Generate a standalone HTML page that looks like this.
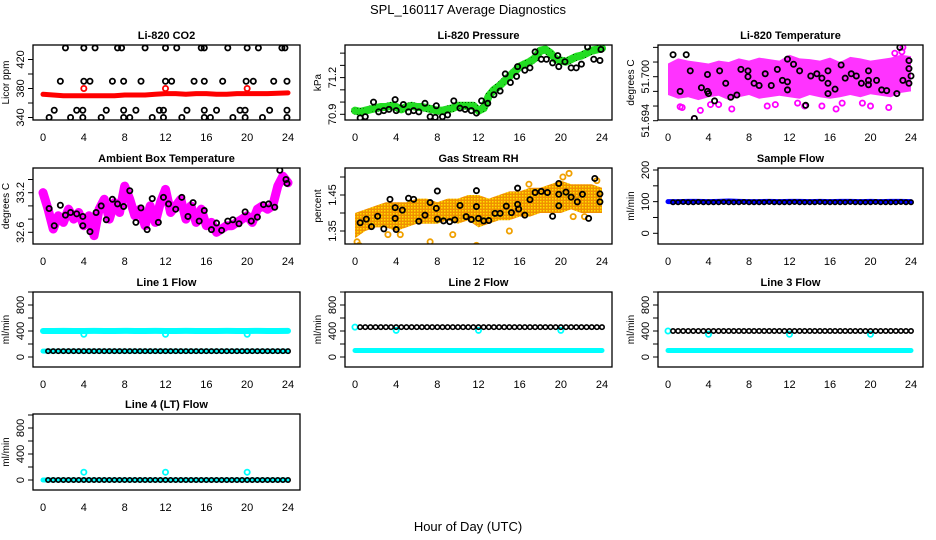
<!DOCTYPE html>
<html><head><meta charset="utf-8"><style>
html,body{margin:0;padding:0;background:#fff}
svg{display:block;font-family:"Liberation Sans",Arial,sans-serif}
</style></head><body>
<svg id="chart" width="936" height="540" viewBox="0 0 936 540">
<defs>
<pattern id="rhpat" width="3" height="3" patternUnits="userSpaceOnUse"><rect width="3" height="3" fill="#f09000"/><rect x="0" y="0" width="1.5" height="1.5" fill="#ffe000"/></pattern>
<pattern id="grpat" width="3" height="3" patternUnits="userSpaceOnUse"><rect width="3" height="3" fill="#22dd22"/><rect width="1" height="1" fill="#005500"/></pattern>
</defs>
<text x="468" y="14" font-size="13" text-anchor="middle">SPL_160117  Average Diagnostics</text>
<text x="468" y="531" font-size="13" text-anchor="middle">Hour of Day (UTC)</text>
</svg>
<script>
const xTicks=[0,4,8,12,16,20,24];
const halfHours=[0,0.5,1,1.5,2,2.5,3,3.5,4,4.5,5,5.5,6,6.5,7,7.5,8,8.5,9,9.5,10,10.5,11,11.5,12,12.5,13,13.5,14,14.5,15,15.5,16,16.5,17,17.5,18,18.5,19,19.5,20,20.5,21,21.5,22,22.5,23,23.5,24];
const hours=[0,1,2,3,4,5,6,7,8,9,10,11,12,13,14,15,16,17,18,19,20,21,22,23,24];
const blackHours=[0.5,1,1.5,2,2.5,3,3.5,4,4.5,5,5.5,6,6.5,7,7.5,8,8.5,9,9.5,10,10.5,11,11.5,12,12.5,13,13.5,14,14.5,15,15.5,16,16.5,17,17.5,18,18.5,19,19.5,20,20.5,21,21.5,22,22.5,23,23.5,24];
// CO2
const co2Hours=[2.2,4,5.1,7.3,7.7,10,12,13.1,15.5,15.8,18.1,20,21.1,23.4,23.7,1.7,4,4.6,6.8,7.9,9.6,12,12.6,14.8,15.8,17.6,19.9,20.6,22.6,23.9,1.1,3.3,3.9,6.2,7.9,9.1,11.4,11.8,14.1,15.8,17,19.3,19.8,22.2,23.9,0.6,2.7,3.9,5.7,7.9,8.5,10.7,11.8,13.6,15.8,16.4,18.6,19.8,21.5,23.9];
const co2Values=[436,436,436,436,436,436,436,436,436,436,436,436,436,436,436,390,390,390,390,390,390,390,390,390,390,390,390,390,390,390,350,350,350,350,350,350,350,350,350,350,350,350,350,350,350,340,340,340,340,340,340,340,340,340,340,340,340,340,340,340];
const co2Red=[372,371,370,370,370,370,370,370,371,371,371,372,373,373,372,373,373,372,372,373,373,373,373,374];
const co2RedHours=[0,1,2,3,4,5,6,7,8,9,10,11,12,13,14,15,16,17,18,19,20,21,22,24];
const co2RedOutHours=[4,12,20];
const co2RedOut=[380,380,380];
// Pressure
const presGreen=[70.93,70.92,70.93,70.94,70.95,70.96,70.96,70.97,70.96,70.94,70.96,70.97,70.96,70.96,70.95,70.94,70.93,70.93,70.94,70.95,70.97,70.97,70.97,70.97,70.93,70.95,71.05,71.10,71.13,71.17,71.21,71.25,71.29,71.31,71.33,71.36,71.42,71.43,71.40,71.35,71.34,71.33,71.35,71.37,71.38,71.40,71.42,71.43,71.44];
const presBlackHours=[0.5,1,1.8,2.3,2.8,3.3,3.9,4,4.7,5.2,5.7,6.2,6.8,7.3,7.8,7.9,8.5,9,9.6,10.2,10.7,11.3,11.8,12.3,12.9,13.5,14.1,14.6,15.1,15.7,15.8,16.5,17,17.5,18.1,18.6,19.2,19.7,19.8,20.4,21,21.5,22,22.6,23.2,23.8,23.9];
const presBlack=[70.87,70.88,71.0,70.92,70.93,70.94,71.02,70.93,70.98,70.92,70.93,70.92,70.99,70.88,70.875,70.97,70.88,70.895,71.01,70.95,70.94,70.93,70.91,71.01,70.99,71.06,71.09,71.23,71.16,71.21,71.29,71.26,71.28,71.41,71.35,71.35,71.32,71.38,71.29,71.33,71.28,71.28,71.31,71.45,71.35,71.34,71.43];
// Li-820 temperature
const tempUpper=[51.7018,51.7025,51.7022,51.7020,51.7018,51.7022,51.7020,51.7025,51.7022,51.7026,51.7024,51.7022,51.7030,51.7025,51.7024,51.7022,51.7026,51.7020,51.7027,51.7025,51.7022,51.7024,51.7026,51.7030,51.7028];
const tempLower=[51.6975,51.6970,51.6972,51.6968,51.6972,51.6974,51.6968,51.6972,51.6975,51.6970,51.6972,51.6974,51.6972,51.6970,51.6975,51.6972,51.6970,51.6972,51.6975,51.6972,51.6976,51.6974,51.6972,51.6978,51.6980];
const tempOutHours=[1.2,1.4,2.6,3.2,4.2,5,6.3,9.8,10.6,12.8,13.5,15.2,16.6,17.2,19.2,20,21.8,22.4,23.2,23.1];
const tempOut=[51.6959,51.6958,51.6943,51.6954,51.6962,51.6962,51.6956,51.6960,51.6962,51.6964,51.6960,51.6960,51.6956,51.6964,51.6964,51.6960,51.6958,51.7032,51.7040,51.7034];
const tempBlackHours=[0.5,1.2,1.8,2.2,2.6,3.3,3.9,3.9,4,4.6,5.1,5.7,6.2,6.8,7.2,7.9,7.9,8.5,9,9.6,10.2,10.8,11.3,11.8,11.8,11.8,12.4,13,13.6,14.1,14.7,15.2,15.8,15.8,15.8,16.5,17.1,17.5,18.1,18.6,19.1,19.8,19.8,19.8,20.6,21.1,21.6,22.6,22.9,23.2,23.8,23.8,23.8,24];
const tempBlack=[51.7030,51.6980,51.7030,51.7008,51.6943,51.6985,51.7003,51.6980,51.6977,51.6967,51.7008,51.6991,51.6972,51.6975,51.7010,51.7000,51.7008,51.6991,51.6988,51.7004,51.6988,51.7010,51.6995,51.7024,51.6993,51.6982,51.7017,51.7008,51.6961,51.7001,51.7004,51.6998,51.7008,51.6991,51.6977,51.6983,51.7016,51.6998,51.7004,51.7001,51.6991,51.7008,51.6995,51.6989,51.6995,51.6982,51.6981,51.6977,51.7040,51.6995,51.7022,51.7011,51.6991,51.7001];
// Ambient box temperature
const ambMagenta=[33.2,32.95,32.65,32.85,32.75,32.95,32.8,32.9,32.7,32.85,32.55,32.95,33.1,32.8,33.05,32.9,33.3,33.1,32.85,32.95,32.7,33.0,32.75,33.05,33.25,32.9,33.0,33.1,32.8,33.0,32.75,32.95,32.7,32.75,32.6,32.65,32.7,32.7,32.75,32.8,32.85,32.75,32.95,33.0,32.95,33.0,33.3,33.45,33.35];
const ambBlackHours=[0.6,1.1,1.7,2.2,2.7,3.3,3.9,3.9,4.6,5.2,5.7,6.2,6.8,7.3,7.9,8.5,9.1,9.6,10.2,10.7,11.3,11.8,12.3,13,13.6,14.2,14.7,15.3,15.8,16.5,17,17.5,18.1,18.6,19.2,19.8,20.4,21,21.6,22.1,22.7,23.2,23.8,23.9];
const ambBlack=[32.96,32.70,33.01,32.86,32.90,32.88,32.84,32.70,32.61,32.90,33.0,32.79,33.10,33.03,32.99,33.23,32.75,32.97,32.64,33.11,32.75,33.13,33.03,32.95,33.13,32.84,33.05,32.77,32.93,32.64,32.74,32.63,32.77,32.79,32.73,32.91,32.77,32.83,33.02,33.03,32.98,33.54,33.40,33.34];
// Gas stream RH
const rhUpper=[1.40,1.41,1.42,1.43,1.43,1.43,1.44,1.44,1.43,1.44,1.44,1.45,1.45,1.44,1.45,1.46,1.46,1.47,1.47,1.48,1.49,1.48,1.48,1.48,1.47];
const rhLower=[1.33,1.35,1.36,1.36,1.35,1.36,1.37,1.37,1.37,1.38,1.37,1.38,1.36,1.37,1.38,1.38,1.39,1.39,1.40,1.40,1.40,1.41,1.40,1.40,1.40];
const rhOutHours=[0.2,0.4,3.2,4.4,7.3,9.5,11.8,15,16.9,20.2,20.8,21.2,23.5,22.3];
const rhOut=[1.32,1.31,1.34,1.34,1.32,1.34,1.31,1.35,1.48,1.50,1.51,1.39,1.49,1.39];
const rhBlackHours=[0.5,1.1,1.6,2.2,2.8,3.4,3.9,3.9,4,4.6,5.2,5.7,6.2,6.8,7.3,7.9,8,8,8.6,9.2,9.7,10.2,10.8,11.3,11.8,11.8,12,12.5,13,13.6,14.1,14.7,15.2,15.8,15.8,15.9,16.5,17,17.5,18.1,18.7,19.2,19.8,19.8,19.8,20.5,21,21.6,22.1,22.7,23.3,23.8,23.8];
const rhBlack=[1.373,1.383,1.362,1.391,1.356,1.438,1.415,1.385,1.354,1.408,1.441,1.438,1.377,1.394,1.429,1.413,1.461,1.383,1.378,1.376,1.381,1.421,1.390,1.382,1.462,1.418,1.385,1.378,1.379,1.399,1.399,1.419,1.401,1.469,1.424,1.411,1.394,1.437,1.457,1.460,1.457,1.391,1.482,1.452,1.420,1.458,1.444,1.431,1.452,1.385,1.496,1.453,1.431];
// Flows
const sampleBlue=[100,100,101,101,100,101,102,101,100,100,101,100,101,101,100,101,100,101,101,100,101,100,101,101,100];
const sampleBlack=[98,98,99,98,98,99,98,98,98,98,99,98,98,98,99,98,98,98,98,99,98,98,98,98,99,98,98,98,98,99,98,98,98,98,98,99,98,98,98,98,99,98,98,98,98,99,98,98];
const line1Cyan=[400,400,402,400,400,401,400,400,402,400,400,401,400,400,401,400,400,400,401,400,400,402,400,400,401];
const line1Low=[90,90,90,90,90,90,90,90,90,90,90,90,90,90,90,90,90,90,90,90,90,90,90,90,90];
const line1Black=[90,90,90,90,90,90,90,90,90,90,90,90,90,90,90,90,90,90,90,90,90,90,90,90,90,90,90,90,90,90,90,90,90,90,90,90,90,90,90,90,90,90,90,90,90,90,90,90];
const line1OutHours=[4,12,20];
const line1Out=[350,350,350];
const line2Cyan=[100,100,100,100,100,100,100,100,100,100,100,100,100,100,100,100,100,100,100,100,100,100,100,100,100];
const line2Black=[460,460,460,460,460,460,460,460,460,460,460,460,460,460,460,460,460,460,460,460,460,460,460,460,460,460,460,460,460,460,460,460,460,460,460,460,460,460,460,460,460,460,460,460,460,460,460,460];
const line2OutHours=[0,4,12,20];
const line2Out=[460,410,410,410];
const line3Cyan=[100,100,100,100,100,100,100,100,100,100,100,100,100,100,100,100,100,100,100,100,100,100,100,100,100];
const line3Black=[400,400,400,400,400,400,400,400,400,400,400,400,400,400,400,400,400,400,400,400,400,400,400,400,400,400,400,400,400,400,400,400,400,400,400,400,400,400,400,400,400,400,400,400,400,400,400,400];
const line3OutHours=[0,4,12,20];
const line3Out=[400,350,350,350];
const line4Cyan=[0,0,0,0,0,0,0,0,0,0,0,0,0,0,0,0,0,0,0,0,0,0,0,0,0];
const line4Black=[0,0,0,0,0,0,0,0,0,0,0,0,0,0,0,0,0,0,0,0,0,0,0,0,0,0,0,0,0,0,0,0,0,0,0,0,0,0,0,0,0,0,0,0,0,0,0,0];
const line4OutHours=[4,12,20];
const line4Out=[120,120,120];

const NS='http://www.w3.org/2000/svg';
const svg=document.getElementById('chart');
function mk(tag,attrs,parent){const e=document.createElementNS(NS,tag);for(const k in attrs)e.setAttribute(k,attrs[k]);(parent||svg).appendChild(e);return e;}
const cols=[{l:33,r:300,x0:43,x24:288},{l:345,r:612,x0:355,x24:602},{l:658,r:923,x0:668,x24:911}];
const rows=[{t:45,b:120},{t:168,b:244},{t:292,b:367},{t:414,b:490}];

function panel(name,c,r,title,ylab,v1,p1,v2,p2,yticks,ylabels){
  const C=cols[c],R=rows[r];
  const g=mk('g',{});
  
  
  const X=h=>C.x0+(C.x24-C.x0)*h/24;
  const Y=v=>p1+(v-v1)*(p2-p1)/(v2-v1);
  const clipId='clip-'+name;
  const cp=mk('clipPath',{id:clipId},g);mk('rect',{x:C.l,y:R.t,width:C.r-C.l,height:R.b-R.t},cp);
  const t=mk('text',{x:(C.l+C.r)/2,y:R.t-6,'font-size':11,'font-weight':'bold','text-anchor':'middle'},g);t.textContent=title;
  
  
  const yl=mk('text',{x:0,y:0,'font-size':10,'text-anchor':'middle',transform:`translate(${C.l-24},${(R.t+R.b)/2}) rotate(-90)`},g);yl.textContent=ylab;
  
  
  xTicks.forEach(h=>{const tx=mk('text',{x:X(h),y:R.b+21,'font-size':11,'text-anchor':'middle'},g);tx.textContent=h;
    
    });
  yticks.forEach((v,i)=>{const y=Y(v);if(y<R.t-1||y>R.b+1)return;mk('line',{x1:C.l-5,x2:C.l,y1:y,y2:y,stroke:'#000','stroke-width':1},g);
    if(ylabels[i]!==''){const tl=mk('text',{x:0,y:0,'font-size':11,'text-anchor':'middle',transform:`translate(${C.l-9},${y}) rotate(-90)`},g);tl.textContent=ylabels[i];
      
      }});
  const data=mk('g',{'clip-path':`url(#${clipId})`},g);
  mk('rect',{x:C.l,y:R.t,width:C.r-C.l,height:R.b-R.t,fill:'none',stroke:'#000','stroke-width':1.3},g);
  return {X,Y,g:data};
}
function pts(P,hs,vs,color,name,r,sw){
  hs.forEach((h,i)=>{const c=mk('circle',{cx:P.X(h),cy:P.Y(vs[i]),r:r||2.6,fill:'none',stroke:color,'stroke-width':sw||1.8},P.g);
    
    });
}
function line(P,hs,vs,color,w,name){
  const l=mk('polyline',{points:hs.map((h,i)=>P.X(h)+','+P.Y(vs[i])).join(' '),fill:'none',stroke:color,'stroke-width':w,'stroke-linejoin':'round','stroke-linecap':'round'},P.g);
  
  
}
function band(P,hs,up,lo,fill,name,op){
  const a=hs.map((h,i)=>P.X(h)+','+P.Y(up[i]));const b=hs.map((h,i)=>P.X(h)+','+P.Y(lo[i])).reverse();
  const p=mk('polygon',{points:a.concat(b).join(' '),fill:fill,'fill-opacity':op||1},P.g);
  
  
}

let P=panel('co2',0,0,'Li-820 CO2','Licor ppm',340,117.5,420,59.5,[340,360,380,400,420],['340','','380','','420']);
line(P,co2RedHours,co2Red,'#ff0000',5,'co2-red-series');
pts(P,co2RedOutHours,co2RedOut,'#ff0000','co2-red-point');
pts(P,co2Hours,co2Values,'#000','co2-black-point');
P=panel('pressure',1,0,'Li-820 Pressure','kPa',70.9,114.3,71.2,77.6,[70.9,71.0,71.1,71.2,71.3,71.4],['70.9','','','71.2','','']);
line(P,halfHours,presGreen,'url(#grpat)',8,'pressure-green-series');
line(P,halfHours,presGreen,'#22dd22',5,'pressure-green-core');
pts(P,presBlackHours,presBlack,'#000','pressure-black-point');
P=panel('temperature',2,0,'Li-820 Temperature','degrees C',51.694,120.7,51.700,76.7,[51.694,51.696,51.698,51.700,51.702,51.704],['51.694','','','51.700','','']);
band(P,hours,tempUpper,tempLower,'#ff00ff','temperature-magenta-band',0.8);
pts(P,tempOutHours,tempOut,'#ff00ff','temperature-magenta-point');
pts(P,tempBlackHours,tempBlack,'#000','temperature-black-point');
P=panel('ambient',0,1,'Ambient Box Temperature','degrees C',32.6,232.3,33.2,192.7,[32.6,32.8,33.0,33.2,33.4],['32.6','','','33.2','']);
line(P,halfHours,ambMagenta,'#ff00ff',9,'ambient-magenta-series');
pts(P,ambBlackHours,ambBlack,'#000','ambient-black-point');
P=panel('rh',1,1,'Gas Stream RH','percent',1.35,231,1.45,195,[1.35,1.40,1.45,1.50],['1.35','','1.45','']);
band(P,hours,rhUpper,rhLower,'url(#rhpat)','rh-orange-band');
pts(P,rhOutHours,rhOut,'#f0a000','rh-orange-point');
pts(P,rhBlackHours,rhBlack,'#000','rh-black-point');
P=panel('sample-flow',2,1,'Sample Flow','ml/min',0,233.3,200,170,[0,50,100,150,200],['0','','100','','200']);
line(P,hours,sampleBlue,'#0000ff',5,'sample-flow-blue-series');
pts(P,blackHours,sampleBlack,'#000','sample-flow-black-point',2.2,1.6);
const fT=[0,200,400,600,800,1000],fL=['0','','400','','800',''];
P=panel('line1-flow',0,2,'Line 1 Flow','ml/min',0,357,800,305,fT,fL);
line(P,hours,line1Cyan,'#00ffff',6,'line1-cyan-series');
line(P,hours,line1Low,'#00ffff',5,'line1-cyan-low-series');
pts(P,line1OutHours,line1Out,'#00ffff','line1-cyan-point');
pts(P,blackHours,line1Black,'#000','line1-black-point',2.2,1.6);
P=panel('line2-flow',1,2,'Line 2 Flow','ml/min',0,357,800,305,fT,fL);
line(P,hours,line2Cyan,'#00ffff',5,'line2-cyan-series');
pts(P,line2OutHours,line2Out,'#00ffff','line2-cyan-point');
pts(P,blackHours,line2Black,'#000','line2-black-point',2.2,1.6);
P=panel('line3-flow',2,2,'Line 3 Flow','ml/min',0,357,800,305,fT,fL);
line(P,hours,line3Cyan,'#00ffff',5,'line3-cyan-series');
pts(P,line3OutHours,line3Out,'#00ffff','line3-cyan-point');
pts(P,blackHours,line3Black,'#000','line3-black-point',2.2,1.6);
P=panel('line4-flow',0,3,'Line 4 (LT) Flow','ml/min',0,480,800,428,fT,fL);
line(P,hours,line4Cyan,'#00ffff',5,'line4-cyan-series');
pts(P,line4OutHours,line4Out,'#00ffff','line4-cyan-point');
pts(P,blackHours,line4Black,'#000','line4-black-point',2.2,1.6);
</script>
</body></html>
